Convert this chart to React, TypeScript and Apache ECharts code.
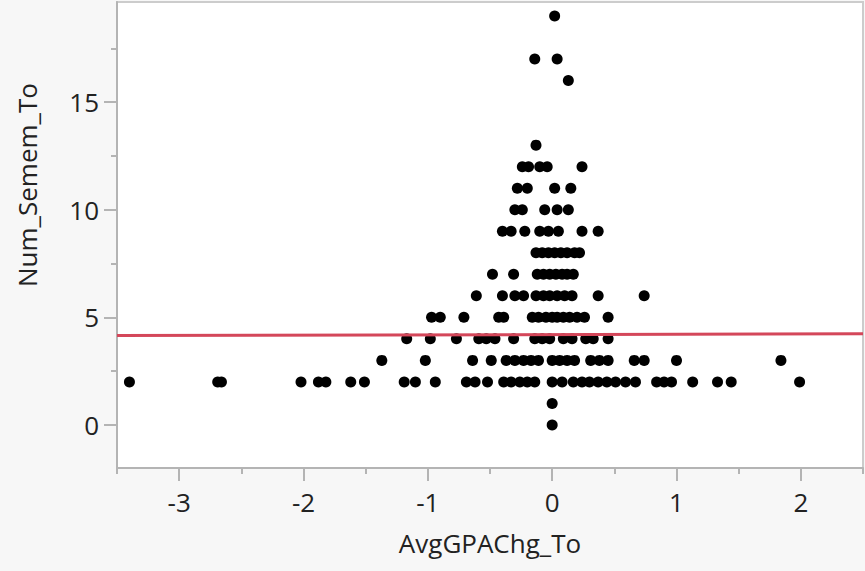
import React, { useEffect, useRef } from "react";
import * as echarts from "echarts";

// Number of semesters (y) and the average GPA change (x) of each student at that count
const semesterCounts = [19, 17, 16, 13, 12, 11, 10, 9, 8, 7, 6, 5, 4, 3, 2, 1, 0];
const avgGpaChgByCount: number[][] = [
  [0.02],
  [-0.14, 0.04],
  [0.13],
  [-0.13],
  [-0.24, -0.19, -0.1, -0.04, 0.24],
  [-0.28, -0.2, 0.02, 0.15],
  [-0.3, -0.24, -0.06, 0.04, 0.13],
  [-0.4, -0.33, -0.22, -0.1, -0.03, 0.05, 0.24, 0.37],
  [-0.13, -0.08, -0.03, 0.02, 0.07, 0.12, 0.18, 0.22],
  [-0.48, -0.31, -0.12, -0.07, -0.02, 0.03, 0.08, 0.12, 0.17],
  [-0.61, -0.4, -0.3, -0.23, -0.13, -0.07, -0.02, 0.04, 0.1, 0.16, 0.37, 0.74],
  [-0.97, -0.9, -0.71, -0.43, -0.39, -0.16, -0.11, -0.05, 0.0, 0.04, 0.09, 0.14, 0.2, 0.26, 0.45],
  [-1.17, -0.98, -0.77, -0.59, -0.53, -0.46, -0.31, -0.14, -0.08, -0.02, 0.09, 0.16, 0.27, 0.33, 0.45],
  [-1.37, -1.02, -0.64, -0.49, -0.37, -0.3, -0.23, -0.17, -0.11, 0.0, 0.06, 0.12, 0.18, 0.31, 0.38, 0.45, 0.66, 0.74, 1.0, 1.84],
  [
    -3.4, -2.69, -2.66, -2.02, -1.88, -1.82, -1.62, -1.51, -1.19, -1.1, -0.94, -0.69, -0.62, -0.52,
    -0.39, -0.33, -0.26, -0.2, -0.14, 0.0, 0.08, 0.17, 0.24, 0.3, 0.37, 0.44, 0.51, 0.59, 0.67,
    0.84, 0.9, 0.96, 1.13, 1.33, 1.44, 1.99,
  ],
  [0.0],
  [0.0],
];

// Axis ranges and ticks
const xRange = [-3.5, 2.5];
const yRange = [-2, 19.65];
const xTicks = [-3, -2, -1, 0, 1, 2];
const xMinorTicks = [-3.5, -2.5, -1.5, -0.5, 0.5, 1.5, 2.5];
const yTicks = [0, 5, 10, 15];
const yMinorTicks = [2.5, 7.5, 12.5, 17.5];

// Linear fit of Num_Semem_To on AvgGPAChg_To
const fitIntercept = 4.2;
const fitSlope = 0.013;

const FONT = '"Open Sans", "Noto Sans", sans-serif';
const AXIS_GRAY = "#b4b4b4";
const TEXT = "#222222";

export default function App() {
  const ref = useRef<HTMLDivElement>(null);

  useEffect(() => {
    document.body.style.margin = "0";
    if (!ref.current) return;
    const chart = echarts.init(ref.current, undefined, { renderer: "svg" });

    const points = semesterCounts.flatMap((n, i) => avgGpaChgByCount[i].map((x) => [x, n]));
    const fitLine = xRange.map((x) => [x, fitIntercept + fitSlope * x]);

    const majorTick = (values: number[]) => ({
      show: true,
      customValues: values,
      length: 13,
      lineStyle: { color: AXIS_GRAY, width: 2 },
    });
    const minorTick = (values: number[]) => ({
      show: true,
      customValues: values,
      length: 6,
      lineStyle: { color: AXIS_GRAY, width: 2 },
    });

    chart.setOption({
      animation: false,
      backgroundColor: "#f7f7f7",
      grid: {
        left: 117,
        right: 2,
        top: 2,
        bottom: 103,
        show: true,
        backgroundColor: "#ffffff",
        borderColor: "#cccccc",
        borderWidth: 2,
      },
      xAxis: [
        {
          type: "value",
          min: xRange[0],
          max: xRange[1],
          position: "bottom",
          axisLine: { show: true, onZero: false, lineStyle: { color: AXIS_GRAY, width: 2 } },
          axisTick: majorTick(xTicks),
          axisLabel: {
            customValues: xTicks,
            fontSize: 26,
            fontFamily: FONT,
            color: TEXT,
            margin: 21,
          },
          splitLine: { show: false },
          name: "AvgGPAChg_To",
          nameLocation: "middle",
          nameGap: 62,
          nameTextStyle: { fontSize: 26, fontFamily: FONT, color: TEXT },
        },
        {
          type: "value",
          min: xRange[0],
          max: xRange[1],
          position: "bottom",
          offset: 0,
          axisLine: { show: false, onZero: false },
          axisTick: minorTick(xMinorTicks),
          axisLabel: { show: false },
          splitLine: { show: false },
        },
      ],
      yAxis: [
        {
          type: "value",
          min: yRange[0],
          max: yRange[1],
          position: "left",
          axisLine: { show: true, onZero: false, lineStyle: { color: AXIS_GRAY, width: 2 } },
          axisTick: majorTick(yTicks),
          axisLabel: {
            customValues: yTicks,
            fontSize: 26,
            fontFamily: FONT,
            color: TEXT,
            margin: 18,
          },
          splitLine: { show: false },
        },
        {
          type: "value",
          min: yRange[0],
          max: yRange[1],
          position: "left",
          offset: 0,
          axisLine: { show: false, onZero: false },
          axisTick: minorTick(yMinorTicks),
          axisLabel: { show: false },
          splitLine: { show: false },
        },
      ],
      graphic: [
        {
          type: "text",
          x: 27,
          y: 185,
          rotation: Math.PI / 2,
          style: {
            text: "Num_Semem_To",
            font: `26px ${FONT}`,
            fill: TEXT,
            align: "center",
            verticalAlign: "middle",
          },
        },
      ],
      series: [
        {
          type: "scatter",
          xAxisIndex: 0,
          yAxisIndex: 0,
          data: points,
          symbol: "circle",
          symbolSize: 11,
          itemStyle: { color: "#000000", opacity: 1 },
          z: 2,
        },
        {
          type: "line",
          xAxisIndex: 0,
          yAxisIndex: 0,
          data: fitLine,
          symbol: "none",
          lineStyle: { color: "#d4475a", width: 3 },
          z: 3,
        },
      ],
    });

    return () => chart.dispose();
  }, []);

  return <div ref={ref} style={{ width: 865, height: 571 }} />;
}
